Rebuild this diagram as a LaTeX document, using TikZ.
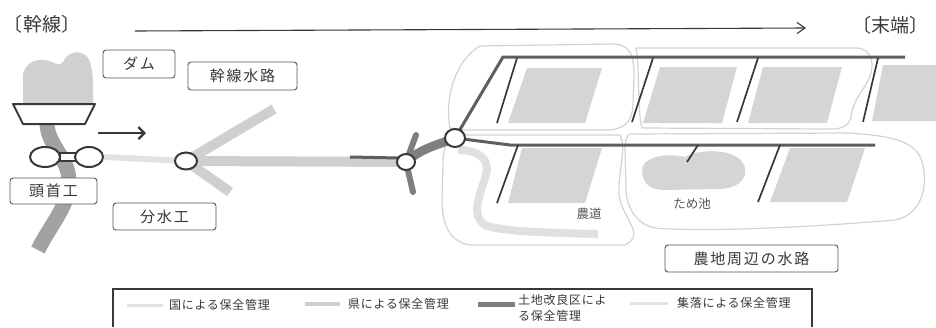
\documentclass[tikz,border=0pt]{standalone}
\usepackage{fontspec}
\setmainfont{Noto Sans CJK JP}
\newfontfamily\boxfont{Noto Sans CJK JP}[LetterSpace=12]
\newfontfamily\legfont{Noto Sans CJK JP}[LetterSpace=6]
\usetikzlibrary{arrows.meta,shapes.geometric}
\definecolor{ink}{HTML}{383838}
\definecolor{boxc}{HTML}{555555}
\definecolor{outc}{HTML}{D2D2D2}
\definecolor{fieldc}{HTML}{D5D5D5}
\definecolor{damc}{HTML}{D0D0D0}
\definecolor{riverc}{HTML}{A2A2A2}
\definecolor{kunic}{HTML}{E2E2E2}
\definecolor{kenc}{HTML}{CFCFCF}
\definecolor{lidc}{HTML}{5E5E5E}
\definecolor{thickc}{HTML}{7F7F7F}
\definecolor{bandc}{HTML}{E0E0E0}
\tikzset{
  lbox/.style={draw=boxc, line width=0.9pt, rounded corners=3pt, fill=white, inner sep=0pt,
               font=\boxfont\fontsize{15}{18}\selectfont, text=ink},
  jnode/.style={ellipse, draw=ink, line width=2pt, fill=white, inner sep=0pt},
  ttl/.style={font=\fontsize{19}{22}\selectfont, text=ink, inner sep=0pt},
  smalltxt/.style={font=\fontsize{12.5}{14}\selectfont, text=ink!85, inner sep=0pt},
  legtxt/.style={font=\legfont\fontsize{12}{16}\selectfont, text=ink, inner sep=0pt, align=left},
  outl/.style={draw=outc, line width=1.2pt},
  field/.style={fill=fieldc},
  kuni/.style={draw=kunic, line width=6pt},
  ken/.style={draw=kenc, line width=10pt},
  lid/.style={draw=lidc, line width=3pt},
  lidthick/.style={draw=thickc, line width=9pt, line cap=round},
  branch/.style={draw=ink, line width=1.7pt},
}
\begin{document}
\begin{tikzpicture}[x=1pt,y=-1pt]
\useasboundingbox (0,0) rectangle (936,327);

% ---------- titles and top arrow
\node[ttl] (tl) at (42,24) {〔幹線〕};
\node[ttl] (tr) at (890,25) {〔末端〕};
\coordinate (aS) at (135,31);
\coordinate (aE) at (806,28);
\draw[ink, line width=1.1pt, -{Straight Barb[length=8pt,width=11pt]}] (aS) -- (aE);

% ---------- outlines of the farm blocks
\path[outl] (450,128) .. controls (444,100) and (455,60) .. (480,46) -- (612,44)
  .. controls (630,44) and (634,55) .. (634,75) -- (633,105)
  .. controls (632,122) and (625,128) .. (610,130) -- (465,130) -- cycle;
\path[outl] (636,48) -- (858,48) .. controls (868,49) and (873,58) .. (872,68)
  .. controls (870,85) and (855,95) .. (852,112) .. controls (850,125) and (845,129) .. (830,129)
  -- (642,128) .. controls (637,110) and (640,70) .. (636,48) -- cycle;
\path[outl] (455,135) -- (620,135) .. controls (628,150) and (615,180) .. (620,200)
  .. controls (625,220) and (645,235) .. (625,245) -- (470,245)
  .. controls (450,242) and (442,225) .. (442,200) -- (443,160)
  .. controls (444,145) and (448,137) .. (455,135) -- cycle;
\path[outl] (630,134) -- (850,133) .. controls (890,136) and (918,140) .. (923,165)
  .. controls (928,190) and (920,215) .. (895,220) .. controls (800,228) and (700,232) .. (655,228)
  .. controls (635,224) and (625,205) .. (626,185) -- (625,150)
  .. controls (625,140) and (627,135) .. (630,134) -- cycle;

% ---------- fields and pond
\path[field] (527,68) -- (602,68) -- (585,123) -- (508,123) -- cycle;
\path[field] (660,67) -- (737,67) -- (722,123) -- (643,123) -- cycle;
\path[field] (763,67) -- (842,67) -- (827,123) -- (748,123) -- cycle;
\path[field] (883,65) -- (940,65) -- (940,121) -- (872,121) -- cycle;
\path[field] (522,148) -- (602,148) -- (585,203) -- (508,203) -- cycle;
\path[field] (790,148) -- (865,148) -- (847,202) -- (770,202) -- cycle;
\path[field] (642,172) .. controls (640,158) and (665,152) .. (685,157)
  .. controls (695,150) and (735,146) .. (744,165) .. controls (750,180) and (735,190) .. (715,189)
  -- (665,190) .. controls (648,190) and (643,182) .. (642,172) -- cycle;

% ---------- village channel band
\draw[draw=bandc, line width=8pt] (458,150) .. controls (480,150) and (490,160) .. (486,175)
  .. controls (480,195) and (470,215) .. (485,225) .. controls (500,232) and (560,233) .. (598,234);

% ---------- dam, river, head works
\path[fill=damc] (23,104) -- (23,78) .. controls (22,62) and (40,56) .. (52,62)
  .. controls (56,64) and (60,66) .. (63,62) .. controls (68,50) and (85,48) .. (90,62)
  .. controls (94,75) and (93,90) .. (93,104) -- cycle;
\draw[draw=riverc, line width=15pt] (47,118) .. controls (45,145) and (68,155) .. (69,180)
  .. controls (70,205) and (50,225) .. (38,250);
\draw[draw=ink, line width=2pt, fill=white, line join=round] (13,104) -- (95,104) -- (85,124) -- (23,124) -- cycle;

\node[draw=ink, line width=2pt, fill=white, minimum width=16pt, minimum height=8pt, inner sep=0pt] (hwC) at (67.5,157) {};
\node[jnode, minimum width=30pt, minimum height=20pt] (hwL) at (45,157) {};
\node[jnode, minimum width=28pt, minimum height=20pt] (hwR) at (89,157) {};

% arrow next to head works
\coordinate (sA) at (98,133);
\coordinate (sB) at (146,133);
\draw[ink, line width=2.3pt, -{Straight Barb[length=6pt,width=12pt]}] (sA) -- (sB);

% ---------- canal network
\coordinate (div) at (186,161);
\coordinate (n1c) at (406,162);
\coordinate (n2c) at (455,138);
\draw[kuni] (hwR.east) -- (div);
\draw[ken] (div) -- (274,109);
\draw[ken] (div) -- (230,192);
\draw[ken] (div) -- (n1c);
\draw[lid] (350,157) -- (399,158);
\draw[draw=thickc, line width=6pt, line cap=round] (n1c) -- (416,135);
\draw[draw=thickc, line width=6pt, line cap=round] (n1c) -- (413,192);
\draw[lidthick] (n1c) .. controls (422,148) and (435,146) .. (n2c);
\draw[lid] (n2c) -- (503,57) -- (905,57);
\draw[lid] (n2c) -- (510,145) -- (875,145);

% branches to fields
\draw[branch] (517,58) -- (497,123);
\draw[branch] (653,58) -- (632,122);
\draw[branch] (758,58) -- (737,122);
\draw[branch] (878,58) -- (863,122);
\draw[branch] (518,145) -- (497,203);
\draw[branch] (698,145) -- (687,162);
\draw[branch] (780,145) -- (758,202);

\node[jnode, minimum width=22pt, minimum height=17pt] (dv) at (div) {};
\node[jnode, minimum width=18pt, minimum height=16pt] (n1) at (n1c) {};
\node[jnode, minimum width=20pt, minimum height=18pt] (n2) at (n2c) {};

% ---------- labels
\node[lbox, minimum width=72pt, minimum height=28pt] (dam) at (139,64) {ダム};
\node[lbox, minimum width=109pt, minimum height=28pt] (kansen) at (242.5,76) {幹線水路};
\node[lbox, minimum width=87pt, minimum height=26pt] (toshu) at (53.5,191) {頭首工};
\node[lbox, minimum width=103pt, minimum height=27pt] (bunsui) at (164.5,216.5) {分水工};
\node[lbox, minimum width=173pt, minimum height=27pt] (nochi) at (751.5,258.5) {農地周辺の水路};
\node[smalltxt] (nodo) at (589,214) {農道};
\node[smalltxt] (tame) at (692,204) {ため池};

% ---------- legend
\draw[draw=ink, line width=1.6pt] (113,327) -- (113,289) -- (812,289) -- (812,327);
\coordinate (l1a) at (127,305); \coordinate (l1b) at (163,305);
\coordinate (l2a) at (305,304); \coordinate (l2b) at (340,304);
\coordinate (l3a) at (478,304); \coordinate (l3b) at (515,304);
\coordinate (l4a) at (630,303); \coordinate (l4b) at (668,303);
\draw[draw=kunic, line width=3pt] (l1a) -- (l1b);
\draw[draw=kenc, line width=4pt] (l2a) -- (l2b);
\draw[draw=thickc, line width=5pt] (l3a) -- (l3b);
\draw[draw=kunic, line width=3pt] (l4a) -- (l4b);
\node[legtxt, anchor=west] (lg1) at (169,305) {国による保全管理};
\node[legtxt, anchor=west] (lg2) at (348,304) {県による保全管理};
\node[legtxt, anchor=north west] (lg3) at (518,294) {土地改良区によ\\る保全管理};
\node[legtxt, anchor=west] (lg4) at (677,303) {集落による保全管理};
\end{tikzpicture}
\end{document}
